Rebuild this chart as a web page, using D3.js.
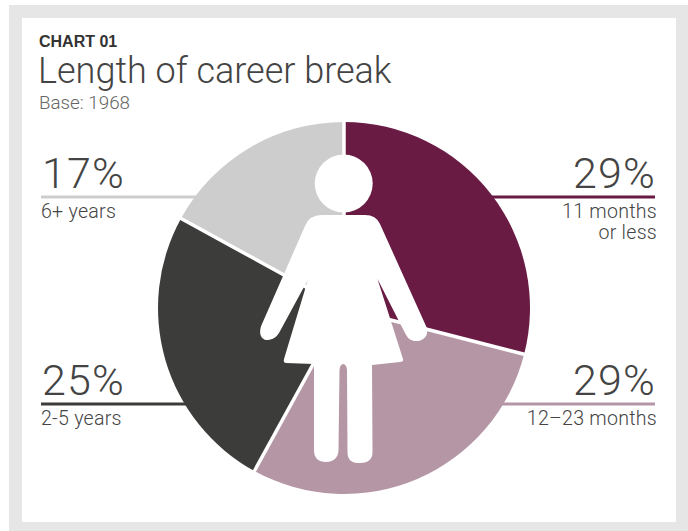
<!DOCTYPE html>
<html>
<head>
<meta charset="utf-8">
<script src="https://cdn.jsdelivr.net/npm/d3@7"></script>
<style>
html,body{margin:0;padding:0;background:#fff;}
svg{display:block;}
text{font-family:Roboto,"Liberation Sans",sans-serif;fill:#444;}
</style>
</head>
<body>
<svg id="chart" width="688" height="531"></svg>
<script>
// Career break lengths, clockwise from twelve o'clock
const categories = ["11 months|or less", "12\u201323 months", "2-5 years", "6+ years"];
const shares = [29, 29, 25, 17];
const sliceColours = ["#6a1b44", "#b496a5", "#3c3c3b", "#cdcdcd"];
const titleLines = ["CHART 01", "Length of career break", "Base: 1968"];

const svg = d3.select("#chart");

// Page frame and white card
svg.append("rect").attr("x", 9).attr("y", 5).attr("width", 679).attr("height", 526).attr("fill", "#e6e6e6");
svg.append("rect").attr("x", 22).attr("y", 18).attr("width", 654).attr("height", 504).attr("fill", "#fff");

// Heading block
svg.append("text").attr("x", 39).attr("y", 46.5).attr("font-size", 16).attr("font-weight", 700)
  .style("font-family", "'Liberation Sans',sans-serif").style("fill", "#333").text(titleLines[0]);
svg.append("text").attr("x", 38).attr("y", 83).attr("font-size", 36).attr("font-weight", 300).text(titleLines[1]);
svg.append("text").attr("x", 39).attr("y", 108.5).attr("font-size", 18.8).attr("font-weight", 300).style("fill", "#666").text(titleLines[2]);

// Callouts: rule, percentage above it, category below it
const callouts = [
  {i: 0, side: "right", y: 197},
  {i: 1, side: "right", y: 404},
  {i: 2, side: "left", y: 404},
  {i: 3, side: "left", y: 197}
];
const cx = 344, cy = 308, radius = 186;
const leftEdge = 41, rightEdge = 655;

callouts.forEach(c => {
  const right = c.side === "right";
  const edge = right ? rightEdge : leftEdge;
  svg.append("line")
    .attr("x1", edge).attr("x2", cx).attr("y1", c.y).attr("y2", c.y)
    .attr("stroke", sliceColours[c.i]).attr("stroke-width", 3);
  svg.append("text")
    .attr("x", edge + 1).attr("y", c.y - 9)
    .attr("text-anchor", right ? "end" : "start")
    .attr("font-size", 43).attr("font-weight", 300).attr("letter-spacing", 1.2)
    .text(shares[c.i] + "%");
  categories[c.i].split("|").forEach((line, k) => {
    svg.append("text")
      .attr("x", right ? edge + 2 : edge).attr("y", c.y + 21 + k * 20.5)
      .attr("text-anchor", right ? "end" : "start")
      .attr("font-size", 19.6).attr("font-weight", 300).attr("letter-spacing", 0.25)
      .text(line);
  });
});

// Pie
const pie = d3.pie().sort(null)(shares);
const arc = d3.arc().innerRadius(0).outerRadius(radius);
svg.append("g").attr("transform", `translate(${cx},${cy})`)
  .selectAll("path").data(pie).join("path")
  .attr("d", arc)
  .attr("fill", (d, i) => sliceColours[i]);

// White separators between the slices
svg.append("g").attr("transform", `translate(${cx},${cy})`)
  .selectAll("line").data(pie).join("line")
  .attr("x1", 0).attr("y1", 0)
  .attr("x2", d => (radius + 2) * Math.sin(d.startAngle))
  .attr("y2", d => -(radius + 2) * Math.cos(d.startAngle))
  .attr("stroke", "#fff").attr("stroke-width", 3.5);

// Female figure pictogram laid over the pie
const figure = svg.append("g").attr("fill", "#fff");
figure.append("circle").attr("cx", 343.7).attr("cy", 183.5).attr("r", 29);
figure.append("path").attr("d",
  "M322,215 L365,215 Q376,215 380,224 L426,326 C430,335 424,341 416,341 C411,341 408,339 405,333 " +
  "L377.5,279 L403,359 Q404,362 400,362 L372,365 L372.5,452 C372.5,463 363,463 358,463 " +
  "C351,463 347.5,459 347.5,452 L347,370 C346.5,362 340,362 339.5,370 L338.5,450 " +
  "C338.5,458 333,462 326,462 C318,462 314,458 314,450 L314,364 L286,363 Q283,363 284,359 " +
  "L308,279.5 L279,333 C275,339 271,340 266,340 C261,339 258,333 262,324 L305,226 Q309,215 322,215 Z");
</script>
</body>
</html>
